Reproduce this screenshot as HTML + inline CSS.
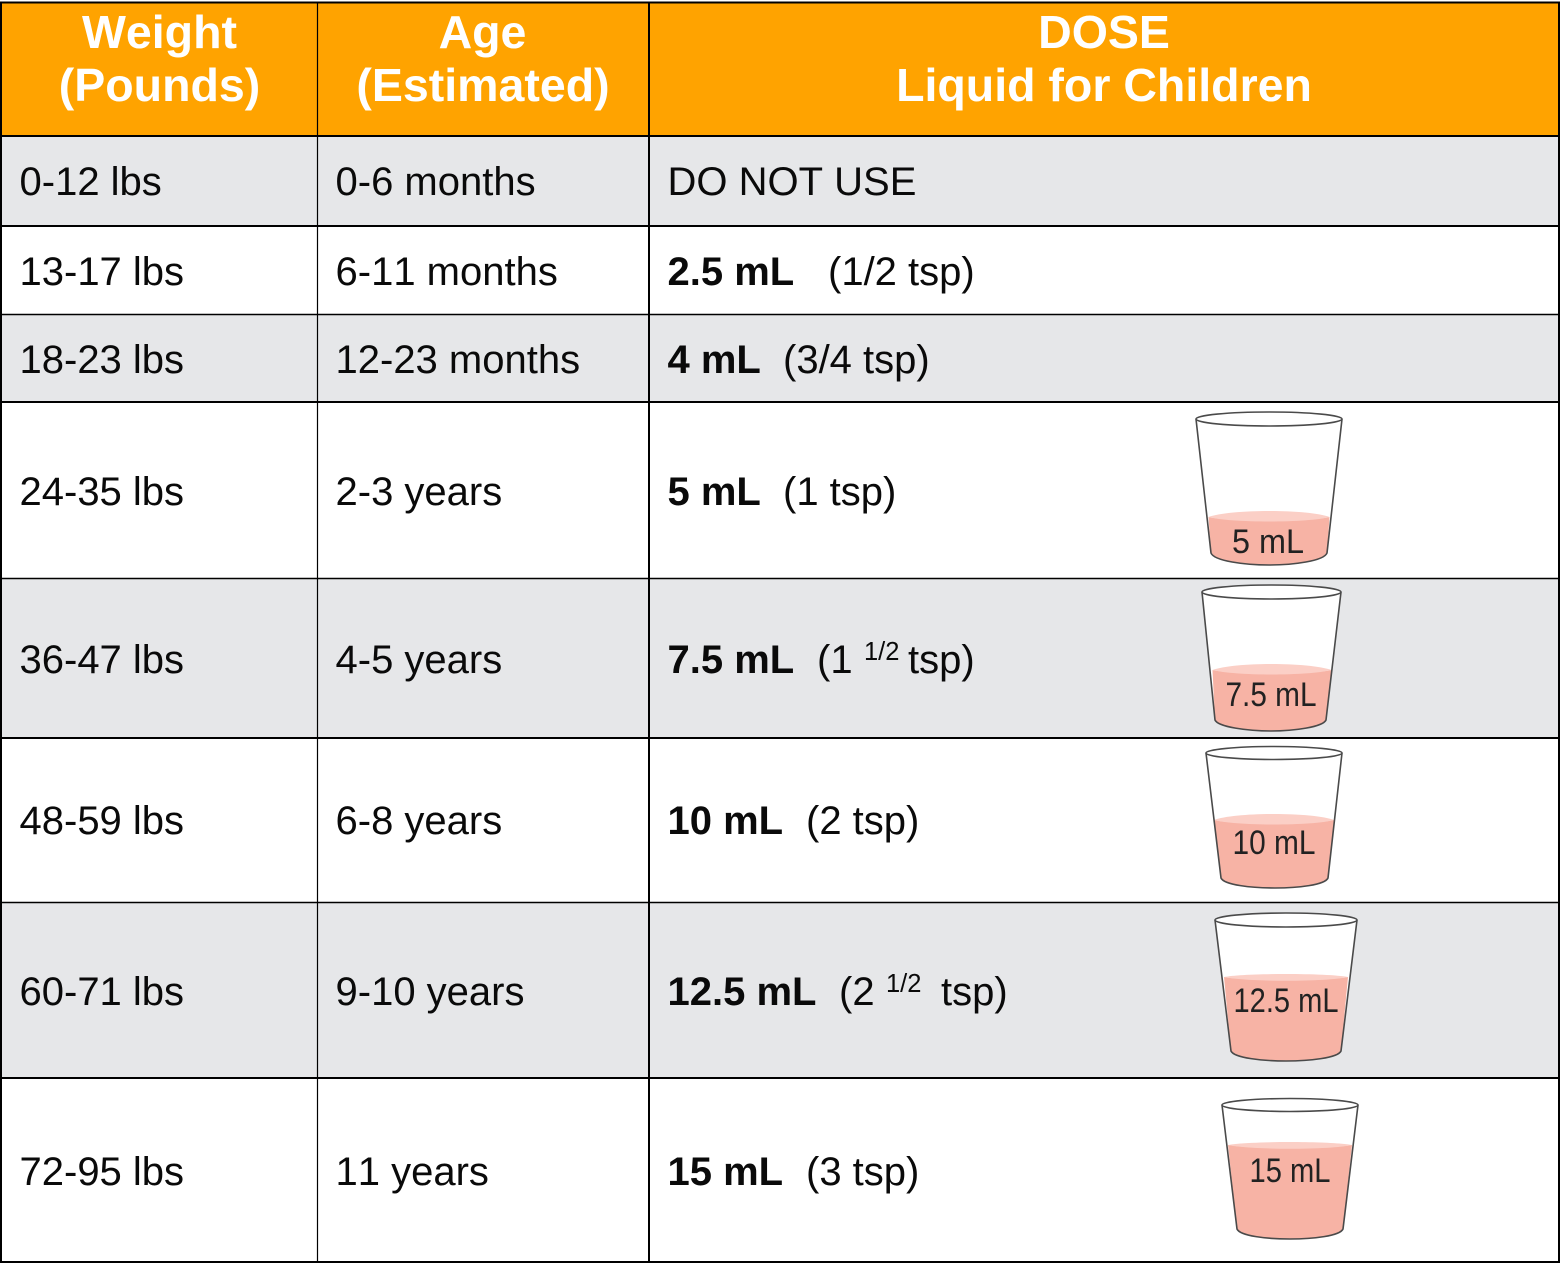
<!DOCTYPE html>
<html lang="en">
<head>
<meta charset="utf-8">
<title>Liquid dose chart for children</title>
<style>
html,body{margin:0;padding:0;background:#fff;width:1565px;height:1265px;overflow:hidden}
svg{display:block}
text{font-family:"Liberation Sans",Arial,sans-serif;font-kerning:none}
.h{font-size:46.5px;font-weight:700;fill:#fff;text-anchor:middle}
.c{font-size:40px;fill:#0a0a0a}
.b{font-size:40px;font-weight:700;fill:#0a0a0a}
.s{font-size:25.5px;fill:#0a0a0a}
.l{font-size:34px;fill:#222;text-anchor:middle}
.rim{fill:#fff;stroke:#4a4a4a;stroke-width:1.6}
.wall{fill:#fff;stroke:none}
.liq{fill:#f7b3a5}
.top{fill:#fbcfc6}
.base{fill:none;stroke:#4a4a4a;stroke-width:1.6}
</style>
</head>
<body>
<svg width="1565" height="1265" viewBox="0 0 1565 1265" xmlns="http://www.w3.org/2000/svg">
  <rect x="0" y="0" width="1565" height="1265" fill="#fff"/>
  <rect x="1" y="2" width="1558" height="134" fill="#ffa300"/>
  <rect x="1" y="136" width="1558" height="90" fill="#e6e7e9"/>
  <rect x="1" y="314" width="1558" height="88" fill="#e6e7e9"/>
  <rect x="1" y="578" width="1558" height="160" fill="#e6e7e9"/>
  <rect x="1" y="902" width="1558" height="176" fill="#e6e7e9"/>

  <g stroke="#000">
    <line x1="0" x2="1560" y1="2.5" y2="2.5" stroke-width="2"/>
    <line x1="0" x2="1560" y1="136" y2="136" stroke-width="2"/>
    <line x1="0" x2="1560" y1="226" y2="226" stroke-width="2"/>
    <line x1="0" x2="1560" y1="314.5" y2="314.5" stroke-width="1.5"/>
    <line x1="0" x2="1560" y1="402" y2="402" stroke-width="2"/>
    <line x1="0" x2="1560" y1="578.5" y2="578.5" stroke-width="1.5"/>
    <line x1="0" x2="1560" y1="738" y2="738" stroke-width="2"/>
    <line x1="0" x2="1560" y1="902.5" y2="902.5" stroke-width="1.5"/>
    <line x1="0" x2="1560" y1="1078" y2="1078" stroke-width="2"/>
    <line x1="0" x2="1560" y1="1262" y2="1262" stroke-width="2"/>
    <line x1="1" x2="1" y1="2" y2="1263" stroke-width="2"/>
    <line x1="317.5" x2="317.5" y1="2" y2="1263" stroke-width="1.2"/>
    <line x1="649" x2="649" y1="2" y2="1263" stroke-width="2"/>
    <line x1="1559" x2="1559" y1="2" y2="1263" stroke-width="2"/>
  </g>

  <g>
    <text class="h" x="159.500" y="48">Weight</text>
    <text class="h" x="159.500" y="101">(Pounds)</text>
    <text class="h" x="482.500" y="48">Age</text>
    <text class="h" x="483" y="101">(Estimated)</text>
    <text class="h" x="1104" y="48">DOSE</text>
    <text class="h" x="1104" y="101">Liquid for Children</text>
  </g>

  <g>
    <text class="c" x="19.500" y="195">0-12 lbs</text>
    <text class="c" x="335.500" y="195">0-6 months</text>
    <text class="c" x="667.500" y="195">DO NOT USE</text>
  </g>
  <g>
    <text class="c" x="19.500" y="285">13-17 lbs</text>
    <text class="c" x="335.500" y="285">6-11 months</text>
    <text class="b" x="667.500" y="285">2.5 mL</text>
    <text class="c" x="828" y="285">(1/2 tsp)</text>
  </g>
  <g>
    <text class="c" x="19.500" y="373">18-23 lbs</text>
    <text class="c" x="335.500" y="373">12-23 months</text>
    <text class="b" x="667.500" y="373">4 mL</text>
    <text class="c" x="783" y="373">(3/4 tsp)</text>
  </g>
  <g>
    <text class="c" x="19.500" y="505">24-35 lbs</text>
    <text class="c" x="335.500" y="505">2-3 years</text>
    <text class="b" x="667.500" y="505">5 mL</text>
    <text class="c" x="783" y="505">(1 tsp)</text>
  </g>
  <g>
    <text class="c" x="19.500" y="673">36-47 lbs</text>
    <text class="c" x="335.500" y="673">4-5 years</text>
    <text class="b" x="667.500" y="673">7.5 mL</text>
    <text class="c" x="817" y="673">(1</text>
    <text class="s" x="864" y="660">1/2</text>
    <text class="c" x="908" y="673">tsp)</text>
  </g>
  <g>
    <text class="c" x="19.500" y="834">48-59 lbs</text>
    <text class="c" x="335.500" y="834">6-8 years</text>
    <text class="b" x="667.500" y="834">10 mL</text>
    <text class="c" x="806" y="834">(2 tsp)</text>
  </g>
  <g>
    <text class="c" x="19.500" y="1005">60-71 lbs</text>
    <text class="c" x="335.500" y="1005">9-10 years</text>
    <text class="b" x="667.500" y="1005">12.5 mL</text>
    <text class="c" x="839" y="1005">(2</text>
    <text class="s" x="886" y="992">1/2</text>
    <text class="c" x="941" y="1005">tsp)</text>
  </g>
  <g>
    <text class="c" x="19.500" y="1185">72-95 lbs</text>
    <text class="c" x="335.500" y="1185">11 years</text>
    <text class="b" x="667.500" y="1185">15 mL</text>
    <text class="c" x="806" y="1185">(3 tsp)</text>
  </g>

  <g>
    <path class="wall" d="M1196 419 L1211 553 C1214 561 1245 565 1269 565 C1293 565 1324 561 1327 553 L1342 419 Z"/>
    <path class="liq" d="M1208.500 517 C1230 522 1308 522 1329.500 517 L1327 553 C1324 561 1293 565 1269 565 C1245 565 1214 561 1211 553 Z"/>
    <path class="top" d="M1208.500 517 C1230 509 1308 509 1329.500 517 C1308 523 1230 523 1208.500 517 Z"/>
    <path class="base" d="M1196 419 L1211 553 C1214 561 1245 565 1269 565 C1293 565 1324 561 1327 553 L1342 419"/>
    <ellipse class="rim" cx="1269" cy="419" rx="73" ry="7"/>
    <text class="l" x="1268" y="553" textLength="72" lengthAdjust="spacingAndGlyphs">5 mL</text>
  </g>
  <g>
    <path class="wall" d="M1202 592 L1215 720 C1218 727 1248 731 1271 731 C1294 731 1323 727 1326 720 L1341 592 Z"/>
    <path class="liq" d="M1212.500 670 C1235 675 1308 675 1331.500 670 L1326 720 C1323 727 1294 731 1271 731 C1248 731 1218 727 1215 720 Z"/>
    <path class="top" d="M1212.500 670 C1235 662 1308 662 1331.500 670 C1308 676 1235 676 1212.500 670 Z"/>
    <path class="base" d="M1202 592 L1215 720 C1218 727 1248 731 1271 731 C1294 731 1323 727 1326 720 L1341 592"/>
    <ellipse class="rim" cx="1271.500" cy="592" rx="69.500" ry="7"/>
    <text class="l" x="1271" y="706" textLength="91" lengthAdjust="spacingAndGlyphs">7.5 mL</text>
  </g>
  <g>
    <path class="wall" d="M1206 753 L1221 878 C1224 885 1252 888 1275 888 C1298 888 1325 885 1328 878 L1342 753 Z"/>
    <path class="liq" d="M1214 820 C1235 825 1313 825 1334 820 L1328 878 C1325 885 1298 888 1275 888 C1252 888 1224 885 1221 878 Z"/>
    <path class="top" d="M1214 820 C1235 812 1313 812 1334 820 C1313 826 1235 826 1214 820 Z"/>
    <path class="base" d="M1206 753 L1221 878 C1224 885 1252 888 1275 888 C1298 888 1325 885 1328 878 L1342 753"/>
    <ellipse class="rim" cx="1274" cy="753" rx="68" ry="6.500"/>
    <text class="l" x="1274" y="854" textLength="83" lengthAdjust="spacingAndGlyphs">10 mL</text>
  </g>
  <g>
    <path class="wall" d="M1215 920 L1231 1051 C1234 1058 1263 1061 1286 1061 C1309 1061 1338 1058 1341 1051 L1357 920 Z"/>
    <path class="liq" d="M1224 977 C1245 981 1327 981 1348 977 L1341 1051 C1338 1058 1309 1061 1286 1061 C1263 1061 1234 1058 1231 1051 Z"/>
    <path class="top" d="M1224 977 C1245 973 1327 973 1348 977 C1327 982 1245 982 1224 977 Z"/>
    <path class="base" d="M1215 920 L1231 1051 C1234 1058 1263 1061 1286 1061 C1309 1061 1338 1058 1341 1051 L1357 920"/>
    <ellipse class="rim" cx="1286" cy="920" rx="71" ry="7"/>
    <text class="l" x="1286" y="1012" textLength="105" lengthAdjust="spacingAndGlyphs">12.5 mL</text>
  </g>
  <g>
    <path class="wall" d="M1222 1105 L1237 1229 C1240 1236 1267 1239 1290 1239 C1313 1239 1340 1236 1343 1229 L1358 1105 Z"/>
    <path class="liq" d="M1228 1145 C1250 1149 1330 1149 1352 1145 L1343 1229 C1340 1236 1313 1239 1290 1239 C1267 1239 1240 1236 1237 1229 Z"/>
    <path class="top" d="M1228 1145 C1250 1141 1330 1141 1352 1145 C1330 1150 1250 1150 1228 1145 Z"/>
    <path class="base" d="M1222 1105 L1237 1229 C1240 1236 1267 1239 1290 1239 C1313 1239 1340 1236 1343 1229 L1358 1105"/>
    <ellipse class="rim" cx="1290" cy="1105" rx="68" ry="6.500"/>
    <text class="l" x="1290" y="1182" textLength="81" lengthAdjust="spacingAndGlyphs">15 mL</text>
  </g>
</svg>
</body>
</html>
